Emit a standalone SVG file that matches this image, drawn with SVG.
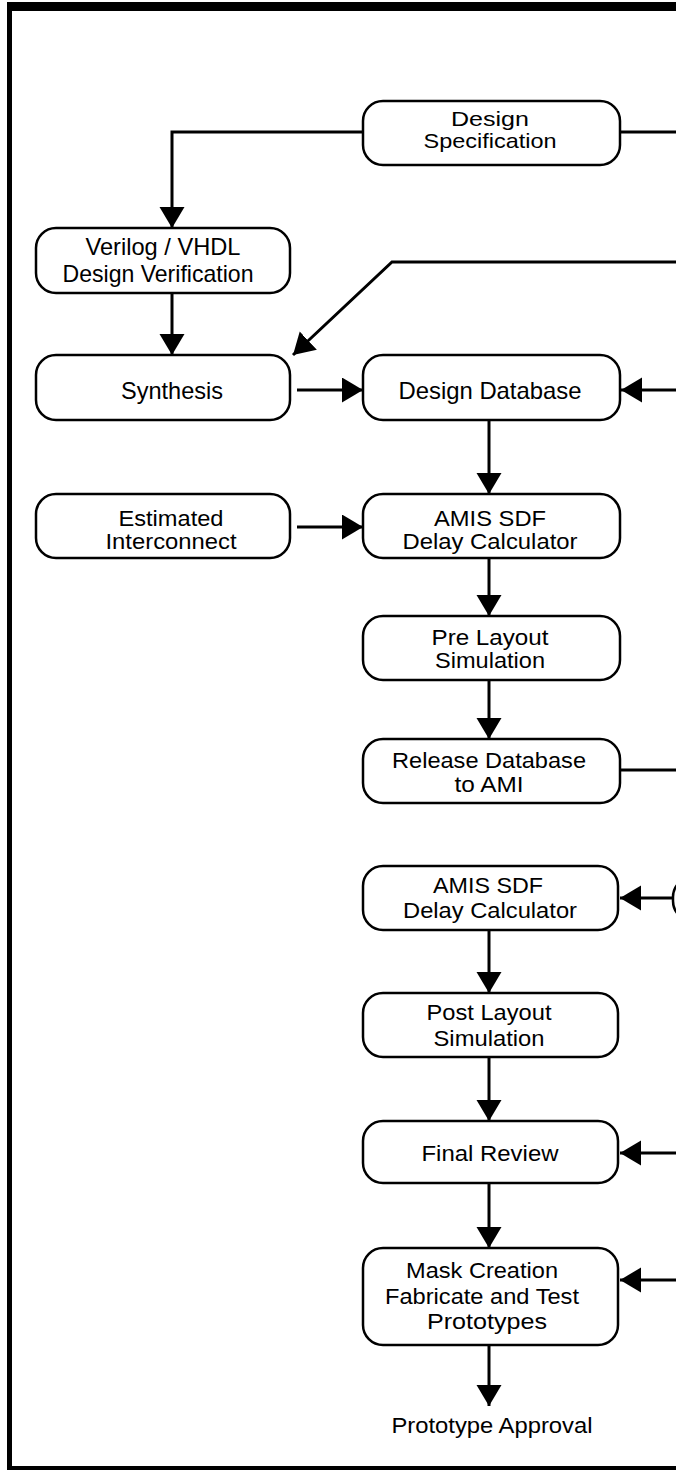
<svg xmlns="http://www.w3.org/2000/svg" width="676" height="1470" viewBox="0 0 676 1470">
<style>
.box{fill:#fff;stroke:#000;stroke-width:2.5}
.ln{fill:none;stroke:#000;stroke-width:3}
.t{font-family:"Liberation Sans",Arial,Helvetica,sans-serif;font-size:22.5px;fill:#000;text-anchor:middle}
.u{font-size:22px}
.d{font-size:21px}
.s{font-size:24px}
</style>
<defs>
<marker id="ah" markerUnits="userSpaceOnUse" markerWidth="22" markerHeight="26" refX="21" refY="12.5" orient="auto" viewBox="0 0 22 26">
<path d="M0,0 L21,12.5 L0,25 z" fill="#000"/>
</marker>
</defs>
<rect x="0" y="0" width="676" height="1470" fill="#fff"/>
<g id="frame">
<rect x="7" y="2" width="669" height="9" fill="#000"/>
<rect x="7" y="2" width="5" height="1468" fill="#000"/>
<rect x="7" y="1466" width="669" height="4" fill="#000"/>
</g>
<g id="connectors">
<path class="ln" d="M363,132 H172 V228" marker-end="url(#ah)"/>
<path class="ln" d="M620,132 H676"/>
<path class="ln" d="M172,293 V355" marker-end="url(#ah)"/>
<path class="ln" d="M676,262 H392 L293,355" marker-end="url(#ah)"/>
<path class="ln" d="M297,390 H363" marker-end="url(#ah)"/>
<path class="ln" d="M676,390 H621" marker-end="url(#ah)"/>
<path class="ln" d="M489,420 V494" marker-end="url(#ah)"/>
<path class="ln" d="M297,527 H363" marker-end="url(#ah)"/>
<path class="ln" d="M489,558 V616" marker-end="url(#ah)"/>
<path class="ln" d="M489,680 V739" marker-end="url(#ah)"/>
<path class="ln" d="M620,770 H676"/>
<path class="ln" d="M673,898 H620" marker-end="url(#ah)"/>
<path class="ln" d="M489,930 V993" marker-end="url(#ah)"/>
<path class="ln" d="M489,1057 V1121" marker-end="url(#ah)"/>
<path class="ln" d="M676,1153 H620" marker-end="url(#ah)"/>
<path class="ln" d="M489,1183 V1248" marker-end="url(#ah)"/>
<path class="ln" d="M676,1280 H620" marker-end="url(#ah)"/>
<path class="ln" d="M489,1345 V1406" marker-end="url(#ah)"/>
</g>
<g id="design-spec">
<rect class="box" x="363" y="101" width="257" height="64" rx="20"/>
<text class="t d" x="490" y="126" textLength="78" lengthAdjust="spacingAndGlyphs">Design</text>
<text class="t d" x="490" y="148" textLength="133" lengthAdjust="spacingAndGlyphs">Specification</text>
</g>
<g id="verilog">
<rect class="box" x="36" y="228" width="254" height="65" rx="20"/>
<text class="t s" x="163" y="255" textLength="155" lengthAdjust="spacingAndGlyphs">Verilog / VHDL</text>
<text class="t s" x="158" y="282" textLength="191" lengthAdjust="spacingAndGlyphs">Design Verification</text>
</g>
<g id="synthesis">
<rect class="box" x="36" y="355" width="254" height="65" rx="20"/>
<text class="t s" x="172" y="399" textLength="102" lengthAdjust="spacingAndGlyphs">Synthesis</text>
</g>
<g id="design-database">
<rect class="box" x="363" y="355" width="257" height="65" rx="20"/>
<text class="t s" x="490" y="399" textLength="183" lengthAdjust="spacingAndGlyphs">Design Database</text>
</g>
<g id="estimated-interconnect">
<rect class="box" x="36" y="494" width="254" height="64" rx="20"/>
<text class="t u" x="171" y="526" textLength="105" lengthAdjust="spacingAndGlyphs">Estimated</text>
<text class="t u" x="171" y="549" textLength="131" lengthAdjust="spacingAndGlyphs">Interconnect</text>
</g>
<g id="amis-sdf-1">
<rect class="box" x="363" y="494" width="257" height="64" rx="20"/>
<text class="t u" x="490" y="526" textLength="112" lengthAdjust="spacingAndGlyphs">AMIS SDF</text>
<text class="t u" x="490" y="549" textLength="175" lengthAdjust="spacingAndGlyphs">Delay Calculator</text>
</g>
<g id="pre-layout">
<rect class="box" x="363" y="616" width="257" height="64" rx="20"/>
<text class="t u" x="490" y="645" textLength="117" lengthAdjust="spacingAndGlyphs">Pre Layout</text>
<text class="t u" x="490" y="668" textLength="110" lengthAdjust="spacingAndGlyphs">Simulation</text>
</g>
<g id="release">
<rect class="box" x="363" y="739" width="257" height="64" rx="20"/>
<text class="t u" x="489" y="768" textLength="194" lengthAdjust="spacingAndGlyphs">Release Database</text>
<text class="t u" x="489" y="792" textLength="69" lengthAdjust="spacingAndGlyphs">to AMI</text>
</g>
<g id="partial-node">
<rect class="box" x="673" y="877" width="260" height="44" rx="20"/>
</g>
<g id="amis-sdf-2">
<rect class="box" x="363" y="866" width="255" height="64" rx="20"/>
<text class="t" x="488" y="893" textLength="110" lengthAdjust="spacingAndGlyphs">AMIS SDF</text>
<text class="t" x="490" y="918" textLength="174" lengthAdjust="spacingAndGlyphs">Delay Calculator</text>
</g>
<g id="post-layout">
<rect class="box" x="363" y="993" width="255" height="64" rx="20"/>
<text class="t" x="489" y="1020" textLength="125" lengthAdjust="spacingAndGlyphs">Post Layout</text>
<text class="t" x="489" y="1046" textLength="111" lengthAdjust="spacingAndGlyphs">Simulation</text>
</g>
<g id="final-review">
<rect class="box" x="363" y="1121" width="255" height="62" rx="20"/>
<text class="t" x="490" y="1161" textLength="137" lengthAdjust="spacingAndGlyphs">Final Review</text>
</g>
<g id="mask-creation">
<rect class="box" x="363" y="1248" width="255" height="97" rx="20"/>
<text class="t" x="482" y="1278" textLength="152" lengthAdjust="spacingAndGlyphs">Mask Creation</text>
<text class="t" x="482" y="1304" textLength="194" lengthAdjust="spacingAndGlyphs">Fabricate and Test</text>
<text class="t" x="487" y="1329" textLength="120" lengthAdjust="spacingAndGlyphs">Prototypes</text>
</g>
<g id="prototype-approval">
<text class="t" x="492" y="1433" textLength="201" lengthAdjust="spacingAndGlyphs">Prototype Approval</text>
</g>
</svg>
